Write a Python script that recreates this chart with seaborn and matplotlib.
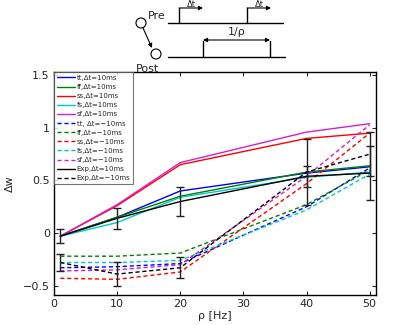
import matplotlib
matplotlib.use("Agg")
import matplotlib.pyplot as plt
import seaborn as sns
import numpy as np
import pandas as pd
from matplotlib.patches import Circle

# data
rho = [1, 10, 20, 40, 50]

# delta t = +10 ms
tt_pos = [-0.03, 0.15, 0.40, 0.57, 0.63]
ff_pos = [-0.03, 0.15, 0.35, 0.58, 0.64]
ss_pos = [-0.03, 0.26, 0.65, 0.90, 0.95]
fs_pos = [-0.03, 0.10, 0.34, 0.53, 0.58]
sf_pos = [-0.03, 0.27, 0.67, 0.96, 1.04]

# delta t = -10 ms
tt_neg = [-0.33, -0.32, -0.29, 0.25, 0.62]
ff_neg = [-0.22, -0.22, -0.19, 0.27, 0.60]
ss_neg = [-0.43, -0.44, -0.37, 0.47, 0.95]
fs_neg = [-0.28, -0.28, -0.26, 0.22, 0.56]
sf_neg = [-0.36, -0.35, -0.30, 0.54, 1.03]

# experiment with error bars
exp_pos = [-0.03, 0.14, 0.30, 0.54, 0.57]
exp_pos_err = [0.065, 0.10, 0.14, 0.10, 0.26]
exp_neg = [-0.28, -0.39, -0.33, 0.58, 0.75]
exp_neg_err = [0.08, 0.11, 0.10, 0.31, 0.21]

models = ["tt", "ff", "ss", "fs", "sf"]
model_colors = ["#0000ff", "#008000", "#ff0000", "#00c8c8", "#d020d0"]
pos_vals = [tt_pos, ff_pos, ss_pos, fs_pos, sf_pos]
neg_vals = [tt_neg, ff_neg, ss_neg, fs_neg, sf_neg]

sns.set_style("ticks")
plt.rcParams["font.family"] = ["DejaVu Sans"]

fig = plt.figure(figsize=(4.15, 3.25), dpi=100)
ax = fig.add_axes([0.130, 0.092, 0.776, 0.686])

for name, col, vals in zip(models, model_colors, pos_vals):
    sns.lineplot(x=rho, y=vals, ax=ax, color=col, lw=1.0,
                 label=f"{name},\u0394t=10ms")
for name, col, vals in zip(models, model_colors, neg_vals):
    lab = f"{name}, \u0394t=\u221210ms" if name == "tt" else f"{name},\u0394t=\u221210ms"
    sns.lineplot(x=rho, y=vals, ax=ax, color=col, lw=1.0, linestyle=(0, (3, 2)),
                 label=lab)
sns.lineplot(x=rho, y=exp_pos, ax=ax, color="black", lw=1.0,
             label="Exp,\u0394t=10ms")
sns.lineplot(x=rho, y=exp_neg, ax=ax, color="black", lw=1.0, linestyle=(0, (3, 2)),
             label="Exp,\u0394t=\u221210ms")

ax.errorbar(rho, exp_pos, yerr=exp_pos_err, fmt="none", ecolor="#222222",
            elinewidth=1.0, capsize=3, capthick=1.0)
ax.errorbar(rho, exp_neg, yerr=exp_neg_err, fmt="none", ecolor="#222222",
            elinewidth=1.0, capsize=3, capthick=1.0)

ax.set_xlim(0, 51)
ax.set_ylim(-0.59, 1.53)
ax.set_xticks([0, 10, 20, 30, 40, 50])
ax.set_yticks([-0.5, 0, 0.5, 1, 1.5])
ax.set_yticklabels(["\u22120.5", "0", "0.5", "1", "1.5"])
ax.tick_params(direction="in", length=3, width=0.8, labelsize=8,
               top=True, right=True, pad=3)
for s in ax.spines.values():
    s.set_visible(True)
    s.set_linewidth(1.0)
    s.set_color("black")
ax.set_xlabel("\u03c1 [Hz]", fontsize=8, labelpad=1)
ax.set_ylabel("\u0394w", fontsize=8, labelpad=6)

leg = ax.legend(loc="upper left", fontsize=5.0, frameon=True, fancybox=False,
                borderaxespad=0.0, labelspacing=0.45, handlelength=2.6,
                handletextpad=0.3, borderpad=0.4)
leg.get_frame().set_edgecolor("#555555")
leg.get_frame().set_linewidth(0.8)

# schematic of the spike pairing protocol (figure pixel coordinates)
sk = fig.add_axes([0, 0, 1, 1], zorder=5)
sk.set_xlim(0, 415)
sk.set_ylim(325, 0)
sk.axis("off")
sk.patch.set_alpha(0)
lw = 1.0
sk.plot([168, 283], [23, 23], color="black", lw=lw)
sk.plot([168, 285], [57, 57], color="black", lw=lw)
for xs in (179, 247):
    sk.plot([xs, xs], [23, 8], color="black", lw=lw)
    sk.annotate("", xy=(xs + 24, 8), xytext=(xs, 8),
                arrowprops=dict(arrowstyle="-|>", lw=0.8, color="black",
                                mutation_scale=6, shrinkA=0, shrinkB=0))
    sk.text(xs + 12, 9, "\u0394t", fontsize=6, ha="center", va="bottom")
for xs in (203, 270):
    sk.plot([xs, xs], [57, 41], color="black", lw=lw)
sk.annotate("", xy=(270, 40), xytext=(203, 40),
            arrowprops=dict(arrowstyle="<|-|>", lw=0.8, color="black",
                            mutation_scale=6, shrinkA=0, shrinkB=0))
sk.text(237, 37, "1/\u03c1", fontsize=8, ha="center", va="bottom")
sk.add_patch(Circle((141, 23), 5, fill=False, lw=0.8, ec="black"))
sk.add_patch(Circle((156, 54), 5, fill=False, lw=0.8, ec="black"))
sk.annotate("", xy=(152, 48), xytext=(143, 28),
            arrowprops=dict(arrowstyle="-|>", lw=0.8, color="black",
                            mutation_scale=6, shrinkA=0, shrinkB=0))
sk.text(148, 16, "Pre", fontsize=8, ha="left", va="center")
sk.text(147, 69, "Post", fontsize=8, ha="center", va="center")

fig.savefig("out.png", dpi=100)
